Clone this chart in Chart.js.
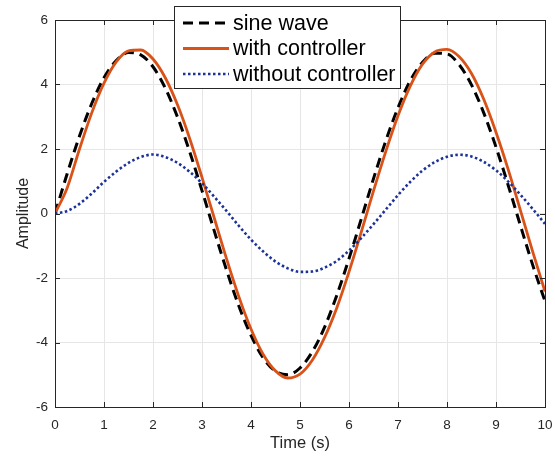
<!DOCTYPE html>
<html>
<head>
<meta charset="utf-8">
<script src="https://cdn.jsdelivr.net/npm/chart.js@4.4.1/dist/chart.umd.min.js"></script>
<style>
  html, body { margin: 0; padding: 0; background: #fff; }
  canvas { display: block; }
</style>
</head>
<body>
<canvas id="response-chart" width="555" height="459"></canvas>
<script>
// time axis (s)
const timeSteps = [0, 0.25, 0.5, 0.75, 1, 1.25, 1.5, 1.75, 2, 2.25, 2.5, 2.75, 3, 3.25, 3.5, 3.75,
    4, 4.25, 4.5, 4.75, 5, 5.25, 5.5, 5.75, 6, 6.25, 6.5, 6.75, 7, 7.25, 7.5, 7.75,
    8, 8.25, 8.5, 8.75, 9, 9.25, 9.5, 9.75, 10];

const sineWave = [0, 1.24, 2.40, 3.41, 4.21, 4.74, 4.99, 4.92, 4.55, 3.89, 2.99, 1.91, 0.71, -0.54,
    -1.75, -2.86, -3.78, -4.48, -4.89, -5.00, -4.79, -4.29, -3.53, -2.54, -1.40, -0.17, 1.08, 2.25,
    3.28, 4.12, 4.69, 4.97, 4.95, 4.61, 3.99, 3.12, 2.06, 0.87, -0.38, -1.60, -2.72];

const withController = [0, 0.80, 2.00, 3.12, 4.04, 4.70, 5.04, 5.07, 4.79, 4.21, 3.37, 2.32, 1.12, -0.14,
    -1.40, -2.57, -3.58, -4.37, -4.88, -5.10, -4.98, -4.55, -3.85, -2.93, -1.81, -0.58, 0.70, 1.92,
    3.03, 3.95, 4.63, 5.01, 5.09, 4.86, 4.34, 3.54, 2.52, 1.36, 0.09, -1.19, -2.42];

const withoutController = [0, 0.08, 0.30, 0.62, 0.98, 1.30, 1.57, 1.75, 1.83, 1.75, 1.57, 1.29, 0.94, 0.52,
    0.08, -0.38, -0.81, -1.18, -1.49, -1.70, -1.81, -1.80, -1.68, -1.47, -1.15, -0.76, -0.33, 0.12,
    0.57, 0.98, 1.33, 1.59, 1.76, 1.82, 1.77, 1.60, 1.34, 0.99, 0.58, 0.14, -0.32];

const xTicks = [0, 1, 2, 3, 4, 5, 6, 7, 8, 9, 10];
const yTicks = [-6, -4, -2, 0, 2, 4, 6];

const FONT = '"Liberation Sans", Arial, Helvetica, sans-serif';
const AXIS_COLOR = '#262626';

const toPoints = ys => timeSteps.map((t, i) => ({ x: t, y: ys[i] }));

// box around the axes with inward ticks on all four sides
const axesFrame = {
    id: 'axesFrame',
    afterDatasetsDraw(chart) {
        const { ctx, chartArea: a, scales: { x, y } } = chart;
        const tick = 5;
        ctx.save();
        ctx.strokeStyle = AXIS_COLOR;
        ctx.lineWidth = 1;
        ctx.beginPath();
        xTicks.forEach(v => {
            const px = Math.round(x.getPixelForValue(v)) + 0.5;
            ctx.moveTo(px, a.bottom); ctx.lineTo(px, a.bottom - tick);
            ctx.moveTo(px, a.top); ctx.lineTo(px, a.top + tick);
        });
        yTicks.forEach(v => {
            const py = Math.round(y.getPixelForValue(v)) + 0.5;
            ctx.moveTo(a.left, py); ctx.lineTo(a.left + tick, py);
            ctx.moveTo(a.right, py); ctx.lineTo(a.right - tick, py);
        });
        ctx.stroke();
        ctx.strokeRect(Math.round(a.left) + 0.5, Math.round(a.top) + 0.5,
            Math.round(a.right - a.left), Math.round(a.bottom - a.top));
        ctx.restore();
    }
};

// boxed legend sitting over the top of the axes
const boxLegend = {
    id: 'boxLegend',
    afterDraw(chart) {
        const ctx = chart.ctx;
        const left = 174.5, top = 6.5, w = 226, h = 82;
        ctx.save();
        ctx.fillStyle = '#fff';
        ctx.fillRect(left, top, w, h);
        ctx.strokeStyle = AXIS_COLOR;
        ctx.lineWidth = 1;
        ctx.strokeRect(left, top, w, h);
        ctx.font = '21.5px ' + FONT;
        ctx.textBaseline = 'middle';
        chart.data.datasets.forEach((ds, i) => {
            const rowY = 23 + i * 25.5;
            ctx.strokeStyle = ds.borderColor;
            ctx.lineWidth = ds.borderWidth;
            ctx.setLineDash(ds.borderDash || []);
            ctx.beginPath();
            ctx.moveTo(183, rowY);
            ctx.lineTo(229, rowY);
            ctx.stroke();
            ctx.setLineDash([]);
            ctx.fillStyle = '#000';
            ctx.fillText(ds.label, 233, rowY + 1);
        });
        ctx.restore();
    }
};

const ctx = document.getElementById('response-chart').getContext('2d');
const responseChart = new Chart(ctx, {
    type: 'line',
    data: {
        datasets: [{
            label: 'sine wave',
            data: toPoints(sineWave),
            borderColor: '#000000',
            borderWidth: 3,
            borderDash: [10, 6],
            order: 3
        }, {
            label: 'with controller',
            data: toPoints(withController),
            borderColor: '#D95319',
            borderWidth: 2.8,
            order: 2
        }, {
            label: 'without controller',
            data: toPoints(withoutController),
            borderColor: '#1c3296',
            borderWidth: 2.6,
            borderDash: [2.5, 2.5],
            order: 1
        }]
    },
    options: {
        responsive: false,
        animation: false,
        layout: {
            padding: { top: 20, right: 10, left: 0, bottom: 0 }
        },
        elements: {
            point: { radius: 0 },
            line: { cubicInterpolationMode: 'monotone', fill: false }
        },
        plugins: {
            legend: { display: false },
            tooltip: { enabled: false }
        },
        scales: {
            x: {
                type: 'linear',
                min: 0,
                max: 10,
                afterBuildTicks: s => { s.ticks = xTicks.map(v => ({ value: v })); },
                afterFit: s => { s.height = 52; s.paddingLeft = 0; s.paddingRight = 0; },
                grid: { color: '#e6e6e6', drawTicks: false },
                border: { display: false },
                ticks: {
                    color: AXIS_COLOR,
                    padding: 10,
                    maxRotation: 0,
                    font: { family: FONT, size: 13.5 }
                },
                title: {
                    display: true,
                    text: 'Time (s)',
                    color: AXIS_COLOR,
                    padding: { top: 0, bottom: 6 },
                    font: { family: FONT, size: 16.5 }
                }
            },
            y: {
                min: -6,
                max: 6,
                afterBuildTicks: s => { s.ticks = yTicks.map(v => ({ value: v })); },
                afterFit: s => { s.width = 55; s.paddingTop = 0; s.paddingBottom = 0; },
                grid: { color: '#e6e6e6', drawTicks: false },
                border: { display: false },
                ticks: {
                    color: AXIS_COLOR,
                    padding: 7,
                    font: { family: FONT, size: 13.5 }
                },
                title: {
                    display: true,
                    text: 'Amplitude',
                    color: AXIS_COLOR,
                    padding: { top: 14, bottom: 0 },
                    font: { family: FONT, size: 16 }
                }
            }
        }
    },
    plugins: [axesFrame, boxLegend]
});
</script>
</body>
</html>
